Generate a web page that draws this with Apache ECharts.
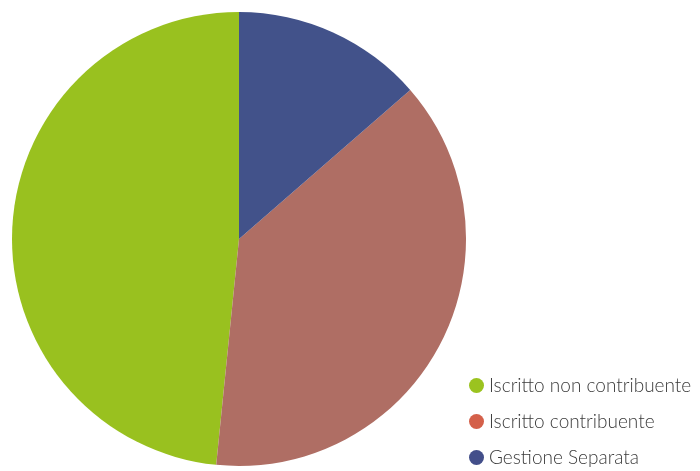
<!DOCTYPE html>
<html>
<head>
<meta charset="utf-8">
<script src="https://cdn.jsdelivr.net/npm/echarts@6/dist/echarts.min.js"></script>
<style>
html,body{margin:0;padding:0;background:#fff;}
#EchartBox{width:700px;height:471px;}
</style>
</head>
<body>
<div id="EchartBox"></div>
<script>
var categories = ['Iscritto non contribuente', 'Iscritto contribuente', 'Gestione Separata'];
var values = [48.4, 38.0, 13.6];
var sliceColors = ['#99c11f', '#af6e64', '#42528a'];
var legendColors = ['#9bc31f', '#d4604a', '#434f8a'];

var pieData = [];
var legendData = [];
for (var i = 0; i < categories.length; i++) {
	pieData.push({name: categories[i], value: values[i], itemStyle: {color: sliceColors[i]}});
	legendData.push({name: categories[i], itemStyle: {color: legendColors[i]}});
}

var myChart = echarts.init(document.getElementById('EchartBox'));
myChart.setOption({
	backgroundColor: '#fff',
	animation: false,
	legend: {
		orient: 'vertical',
		left: 469,
		top: 376,
		width: 231,
		height: 95,
		padding: 0,
		icon: 'circle',
		itemWidth: 15,
		itemHeight: 15,
		itemGap: 17,
		textStyle: {fontFamily: 'Lato', fontWeight: 300, fontSize: 19, lineHeight: 19, color: '#3a3a3a'},
		data: legendData
	},
	series: [
		{
			type: 'pie',
			center: [239, 239],
			radius: [0, 227],
			startAngle: 90,
			clockwise: false,
			label: {show: false},
			labelLine: {show: false},
			itemStyle: {borderWidth: 0},
			emphasis: {disabled: true},
			data: pieData
		}
	]
});
</script>
</body>
</html>
